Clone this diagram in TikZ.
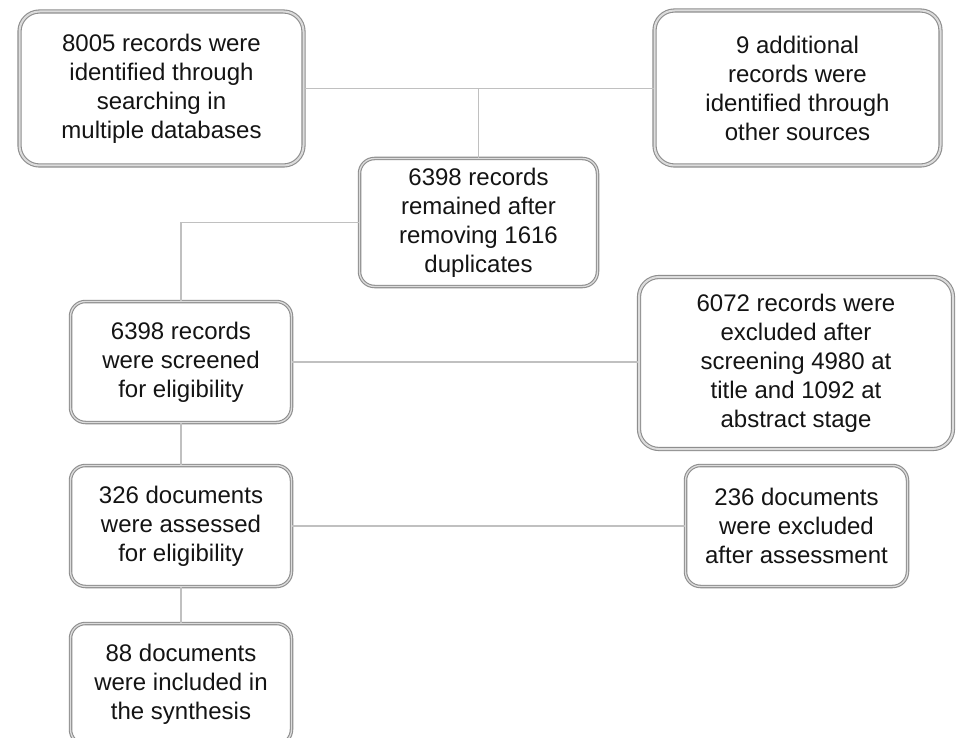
\documentclass[tikz,border=0pt]{standalone}
\usepackage{fontspec}
\setmainfont{Liberation Sans}
\definecolor{bordergray}{HTML}{8E8E8E}
\definecolor{gapgray}{HTML}{DCDCDC}
\definecolor{linegray}{HTML}{C0C0C0}
\definecolor{txt}{HTML}{141414}
\tikzset{
  box/.style={draw=bordergray, line width=1.1pt, double=gapgray, double distance=1.3pt,
    rounded corners=15pt, align=center, text=txt, inner sep=0pt,
    font=\fontsize{24}{29}\selectfont},
  bigbox/.style={box, double distance=2pt, rounded corners=20pt},
  conn/.style={draw=linegray, line width=1.5pt}
}
\begin{document}
\begin{tikzpicture}[x=1pt,y=-1pt]
\clip (0,0) rectangle (956,738);
\fill[white] (0,0) rectangle (956,738);
% nodes
\node[bigbox, minimum width=284pt, minimum height=154pt] (b1) at (161.5,88.5)
  {8005 records were\\identified through\\searching in\\multiple databases};
\node[bigbox, minimum width=286pt, minimum height=155pt] (b2) at (797.5,88)
  {9 additional\\records were\\identified through\\other sources};
\node[box, minimum width=238pt, minimum height=128pt] (b3) at (478.5,222.5)
  {6398 records\\remained after\\removing 1616\\duplicates};
\node[box, minimum width=221pt, minimum height=121pt] (b4) at (181,362)
  {6398 records\\were screened\\for eligibility};
\node[bigbox, minimum width=314pt, minimum height=172pt] (b5) at (796,363)
  {6072 records were\\excluded after\\screening 4980 at\\title and 1092 at\\abstract stage};
\node[box, minimum width=221pt, minimum height=121pt] (b6) at (181,526)
  {326 documents\\were assessed\\for eligibility};
\node[box, minimum width=222pt, minimum height=121pt] (b7) at (796.5,526)
  {236 documents\\were excluded\\after assessment};
\node[box, minimum width=221pt, minimum height=121pt] (b8) at (181,684)
  {88 documents\\were included in\\the synthesis};
% connectors
\coordinate (j1) at (b3.north |- b1.east);
\draw[conn] (b1.east) -- (b1.east -| b2.west);
\draw[conn] (b3.north) -- (j1);
\draw[conn] (b3.west) -- (b3.west -| b4.north) -- (b4.north);
\draw[conn] (b4.east) -- (b4.east -| b5.west);
\draw[conn] (b4.south) -- (b6.north);
\draw[conn] (b6.east) -- (b6.east -| b7.west);
\draw[conn] (b6.south) -- (b8.north);
\end{tikzpicture}
\end{document}
